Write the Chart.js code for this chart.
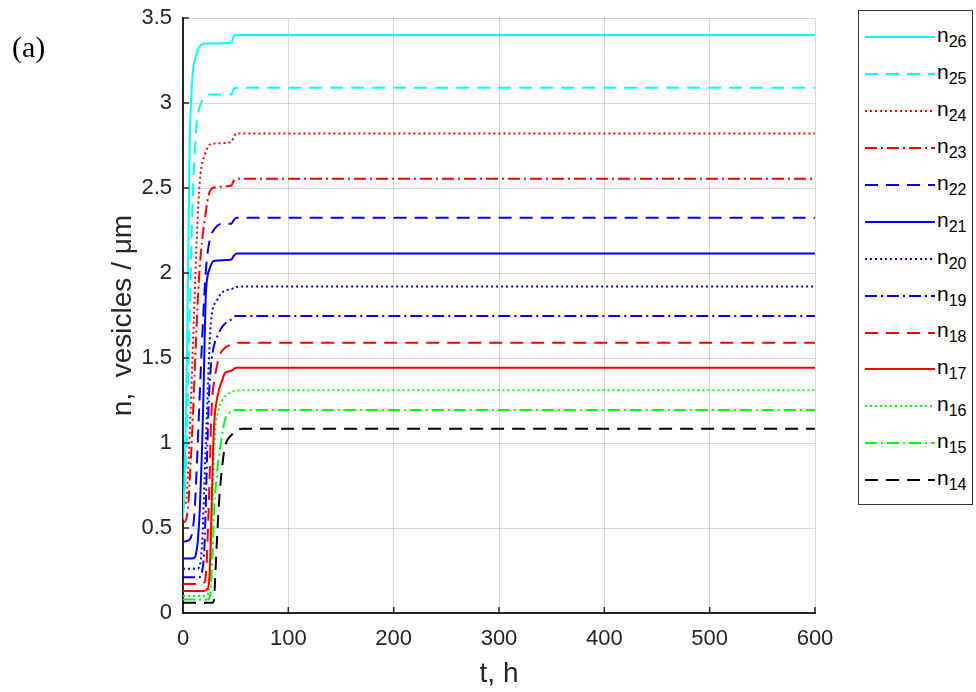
<!DOCTYPE html>
<html>
<head>
<meta charset="utf-8">
<title>Vesicle density vs time</title>
<script src="https://cdn.jsdelivr.net/npm/chart.js@4.4.0/dist/chart.umd.min.js"></script>
<style>
    html, body { margin: 0; padding: 0; background: #fff; }
    #wrap { position: relative; width: 976px; height: 692px; }
    #panel {
        position: absolute; left: 12px; top: 30px;
        font: 30px 'Liberation Serif', 'Times New Roman', serif; color: #000;
    }
    #legend {
        position: absolute; left: 858px; top: 10px; width: 115px; height: 495px;
        box-sizing: border-box; border: 1px solid #333; background: #fff; padding-top: 8px;
    }
    .row { height: 36.9px; display: flex; align-items: center; }
    .row svg { margin-left: 6px; flex: none; }
    .row span { font: 21px 'Liberation Sans', Arial, sans-serif; color: #000; margin-left: 2px; }
    .row sub { font-size: 16px; }
</style>
</head>
<body>
<div id="wrap">
    <canvas id="chart" width="976" height="692"></canvas>
    <div id="panel">(a)</div>
    <div id="legend"></div>
</div>
<script>
// values: [t (h), n (vesicles/um)]
const n26 = [[0,0.55],[1,0.7],[2,0.95],[3,1.25],[4,1.6],[5,2.1],[6.4,2.78],[8,3.05],[9.5,3.19],[12,3.27],[14,3.31],[17,3.34],[21,3.35],[46,3.355],[48,3.39],[51,3.40],[600,3.40]];
const n25 = [[0,0.6],[2,0.75],[4,1.1],[5.5,1.5],[7,1.9],[8.5,2.3],[10,2.55],[11.5,2.75],[13,2.88],[16,2.98],[20,3.03],[27,3.05],[46,3.05],[48,3.08],[51,3.09],[600,3.09]];
const n24 = [[0,0.62],[3,0.66],[5,0.85],[7,1.15],[9,1.5],[11,1.85],[13,2.2],[16,2.54],[21,2.70],[27,2.76],[46,2.77],[48,2.80],[51,2.82],[600,2.82]];
const n23 = [[0,0.53],[3,0.55],[5,0.64],[7,0.85],[9,1.1],[11,1.4],[13,1.7],[15,1.95],[17,2.12],[19,2.24],[21,2.33],[24,2.45],[28,2.5],[46,2.515],[48,2.54],[51,2.555],[600,2.555]];
const n22 = [[0,0.42],[6,0.43],[9,0.48],[11,0.6],[13,0.85],[15,1.15],[17,1.45],[19,1.72],[21,1.95],[23,2.1],[25.6,2.2],[30,2.26],[37,2.29],[46,2.29],[48,2.31],[51,2.325],[600,2.325]];
const n21 = [[0,0.32],[9,0.32],[12,0.34],[14,0.42],[16,0.62],[18,0.95],[19.5,1.3],[20.5,1.6],[21.5,1.85],[23,1.97],[25.6,2.03],[29,2.07],[46,2.08],[48,2.1],[51,2.115],[600,2.115]];
const n20 = [[0,0.26],[13,0.26],[16,0.28],[18,0.4],[20,0.7],[22,1.05],[23.5,1.3],[25,1.55],[27,1.74],[32,1.835],[38,1.89],[46,1.905],[49,1.915],[55,1.92],[600,1.92]];
const n19 = [[0,0.21],[15,0.21],[18,0.24],[20,0.35],[21.5,0.6],[23,0.95],[24.5,1.25],[26.5,1.45],[29,1.56],[33.5,1.64],[38,1.69],[44,1.72],[47,1.73],[50,1.747],[600,1.747]];
const n18 = [[0,0.17],[18,0.17],[21,0.19],[22.5,0.3],[24,0.55],[25.5,0.85],[26.5,1.1],[28,1.28],[30,1.38],[32.5,1.46],[35,1.52],[40,1.56],[46,1.58],[48,1.585],[51,1.59],[600,1.59]];
const n17 = [[0,0.13],[20,0.13],[23,0.14],[25,0.2],[26.5,0.45],[27.5,0.7],[28.5,0.95],[30,1.15],[32,1.25],[34.5,1.32],[37,1.365],[40,1.413],[46,1.425],[48,1.435],[51,1.443],[600,1.443]];
const n16 = [[0,0.1],[22,0.1],[24.5,0.13],[26,0.35],[28,0.66],[30,1.01],[33.5,1.19],[37,1.25],[41,1.28],[46,1.3],[52,1.31],[600,1.31]];
const n15 = [[0,0.08],[24,0.08],[26,0.11],[28,0.35],[30,0.66],[32,0.8],[33.5,0.89],[36,1.0],[38,1.08],[40,1.14],[43,1.17],[46,1.188],[50,1.194],[600,1.194]];
const n14 = [[0,0.06],[28,0.06],[29.5,0.08],[30.5,0.2],[32,0.4],[33.5,0.58],[35,0.72],[37,0.85],[39,0.95],[41.5,1.01],[45,1.04],[50,1.07],[56,1.084],[600,1.084]];

const xTicks = [0, 100, 200, 300, 400, 500, 600];
const yTicks = [0, 0.5, 1, 1.5, 2, 2.5, 3, 3.5];

// line styles (MATLAB-like)
const SOLID = [];
const DASHED = [13, 8];
const DOTTED = [2, 3];
const DASHDOT = [12, 4, 2, 4];

const series = [
    { label: '26', data: n26, color: '#00ffff', dash: SOLID },
    { label: '25', data: n25, color: '#00ffff', dash: DASHED },
    { label: '24', data: n24, color: '#ff0000', dash: DOTTED },
    { label: '23', data: n23, color: '#ff0000', dash: DASHDOT },
    { label: '22', data: n22, color: '#0000ff', dash: DASHED },
    { label: '21', data: n21, color: '#0000ff', dash: SOLID },
    { label: '20', data: n20, color: '#0000ff', dash: DOTTED },
    { label: '19', data: n19, color: '#0000ff', dash: DASHDOT },
    { label: '18', data: n18, color: '#ff0000', dash: DASHED },
    { label: '17', data: n17, color: '#ff0000', dash: SOLID },
    { label: '16', data: n16, color: '#00ff00', dash: DOTTED },
    { label: '15', data: n15, color: '#00ff00', dash: DASHDOT },
    { label: '14', data: n14, color: '#000000', dash: DASHED }
];

const AXIS = '#262626';
const GRID = 'rgba(0,0,0,0.15)';
const FONT = "'Liberation Sans', Arial, sans-serif";

// small inward tick marks on left and bottom axes
const inwardTicks = {
    id: 'inwardTicks',
    afterDraw(chart) {
        const { ctx, chartArea, scales } = chart;
        ctx.save();
        ctx.strokeStyle = AXIS;
        ctx.lineWidth = 1.5;
        ctx.beginPath();
        scales.y.ticks.forEach(t => {
            const y = scales.y.getPixelForValue(t.value);
            ctx.moveTo(chartArea.left, y);
            ctx.lineTo(chartArea.left + 6, y);
        });
        scales.x.ticks.forEach(t => {
            const x = scales.x.getPixelForValue(t.value);
            ctx.moveTo(x, chartArea.bottom);
            ctx.lineTo(x, chartArea.bottom - 6);
        });
        ctx.stroke();
        ctx.restore();
    }
};

const datasets = series.map(s => ({
    label: 'n' + s.label,
    data: s.data.map(p => ({ x: p[0], y: p[1] })),
    borderColor: s.color,
    backgroundColor: s.color,
    borderDash: s.dash,
    borderWidth: 2,
    pointRadius: 0,
    cubicInterpolationMode: 'monotone',
    fill: false
}));

new Chart(document.getElementById('chart'), {
    type: 'line',
    data: { datasets: datasets },
    options: {
        responsive: false,
        animation: false,
        devicePixelRatio: 1,
        layout: { padding: { left: 0, right: 161, top: 18, bottom: 0 } },
        plugins: {
            legend: { display: false },
            tooltip: { enabled: false }
        },
        scales: {
            x: {
                type: 'linear',
                min: 0,
                max: 600,
                afterBuildTicks: s => { s.ticks = xTicks.map(v => ({ value: v })); },
                afterFit: s => { s.height = 79; s.paddingLeft = 0; s.paddingRight = 0; },
                ticks: {
                    color: AXIS,
                    padding: 13,
                    callback: v => String(v),
                    font: { family: FONT, size: 22 }
                },
                grid: { color: GRID, drawTicks: false },
                border: { color: AXIS, width: 2 },
                title: {
                    display: true,
                    text: 't, h',
                    color: AXIS,
                    padding: { top: 0, bottom: 1 },
                    font: { family: FONT, size: 28 }
                }
            },
            y: {
                type: 'linear',
                min: 0,
                max: 3.5,
                afterBuildTicks: s => { s.ticks = yTicks.map(v => ({ value: v })); },
                afterFit: s => { s.width = 183; s.paddingTop = 0; s.paddingBottom = 0; },
                ticks: {
                    color: AXIS,
                    padding: 11,
                    callback: v => String(v),
                    font: { family: FONT, size: 22 }
                },
                grid: { color: GRID, drawTicks: false },
                border: { color: AXIS, width: 2 },
                title: {
                    display: true,
                    text: 'n,  vesicles / μm',
                    color: AXIS,
                    padding: { top: 106, bottom: 0 },
                    font: { family: FONT, size: 28 }
                }
            }
        }
    },
    plugins: [inwardTicks]
});

// legend box with subscripted labels
const legend = document.getElementById('legend');
series.forEach(s => {
    const row = document.createElement('div');
    row.className = 'row';
    row.innerHTML =
        '<svg width="70" height="20"><line x1="0" y1="10" x2="70" y2="10" stroke="' + s.color +
        '" stroke-width="2" stroke-dasharray="' + (s.dash.length ? s.dash.join(' ') : 'none') + '"/></svg>' +
        '<span>n<sub>' + s.label + '</sub></span>';
    legend.appendChild(row);
});
</script>
</body>
</html>
